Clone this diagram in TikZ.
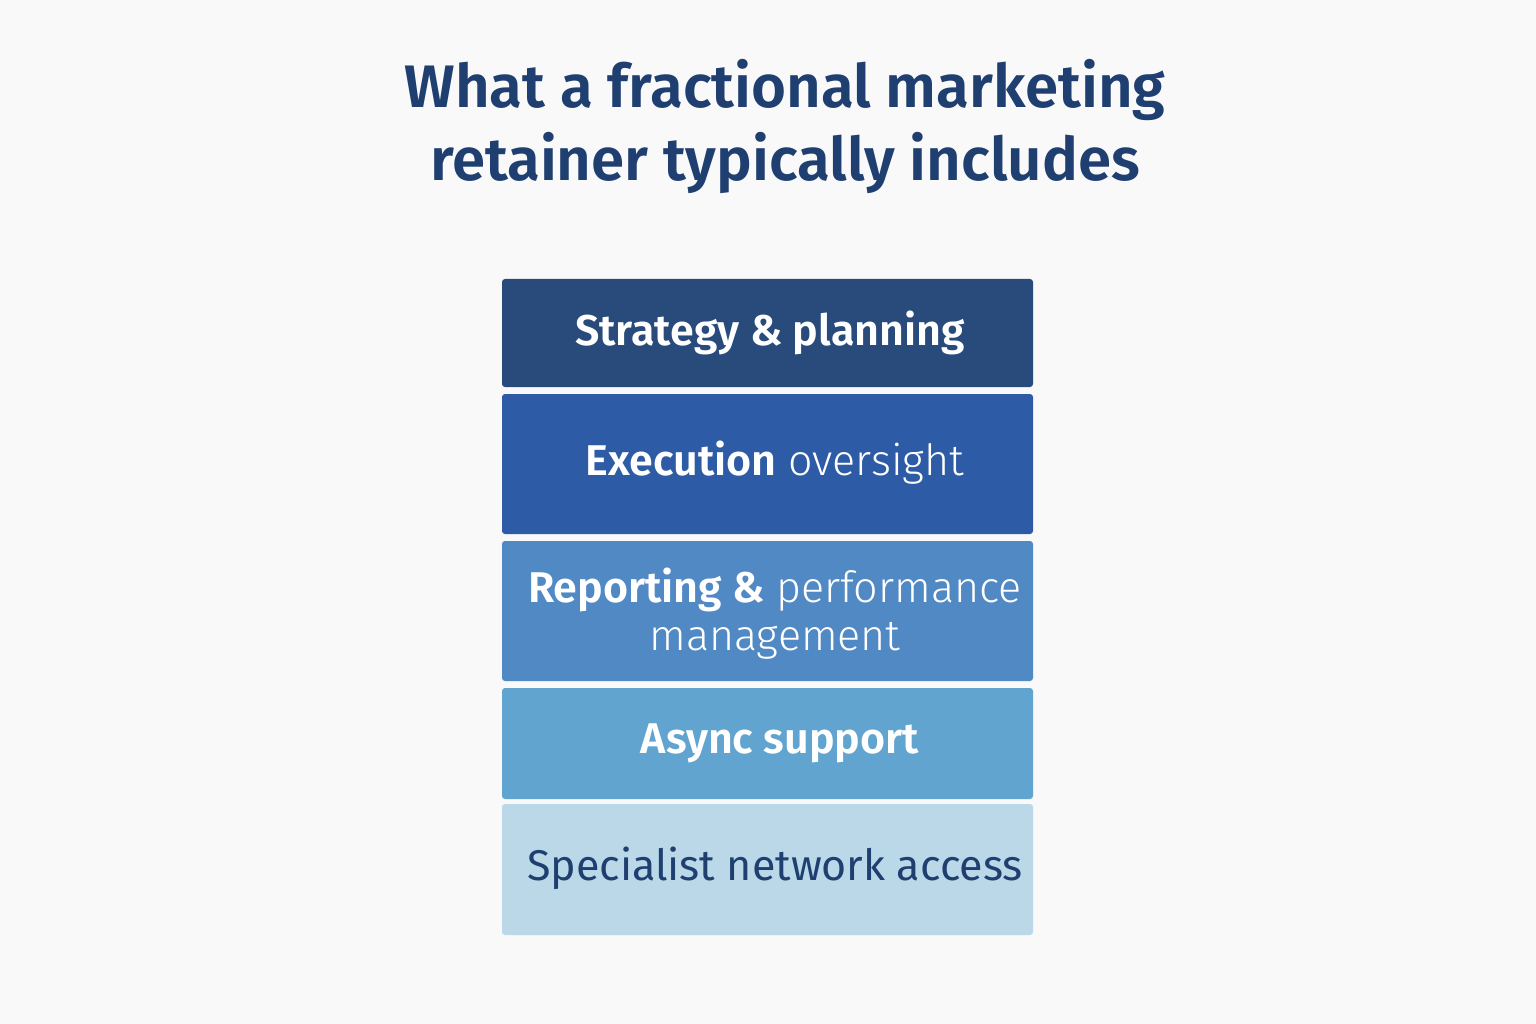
\documentclass[tikz,border=0pt]{standalone}
\usepackage{fontspec}
\setmainfont{Fira Sans}[BoldFont={Fira Sans SemiBold}]
\newfontfamily\lightf{Fira Sans Light}
\definecolor{ttl}{HTML}{1F3F70}
\definecolor{c1}{HTML}{284B7B}
\definecolor{c2}{HTML}{2E5BA6}
\definecolor{c3}{HTML}{5189C5}
\definecolor{c4}{HTML}{62A4D0}
\definecolor{c5}{HTML}{BAD8E8}
\definecolor{bg}{HTML}{F9F9FA}
\begin{document}
\begin{tikzpicture}[x=1pt,y=1pt,
  layer/.style={rounded corners=3pt,draw=none},
  lbl/.style={text=white,font=\fontsize{43}{48}\selectfont,align=center}]
\fill[bg] (0,0) rectangle (1536,-1024);
\useasboundingbox (0,0) rectangle (1536,-1024);
\node[text=ttl,font=\fontsize{60}{73}\selectfont\bfseries,align=center] (title) at (785,-127) {What a fractional marketing\\retainer typically includes};
\fill[layer,c1] (502,-279) rectangle (1033,-387);
\fill[layer,c2] (502,-394) rectangle (1033,-534);
\fill[layer,c3] (502,-541) rectangle (1033,-681);
\fill[layer,c4] (502,-688) rectangle (1033,-799);
\fill[layer,c5] (502,-804) rectangle (1033,-935);
\node[lbl] (l1) at (770,-333) {\bfseries Strategy \& planning};
\node[lbl] (l2) at (775,-463) {{\bfseries Execution} {\lightf oversight}};
\node[lbl] (l3) at (775,-614) {{\bfseries Reporting \&} {\lightf performance}\\{\lightf management}};
\node[lbl] (l4) at (780,-743) {\bfseries Async support};
\node[lbl,text=ttl] (l5) at (775,-868) {Specialist network access};
\end{tikzpicture}
\end{document}
